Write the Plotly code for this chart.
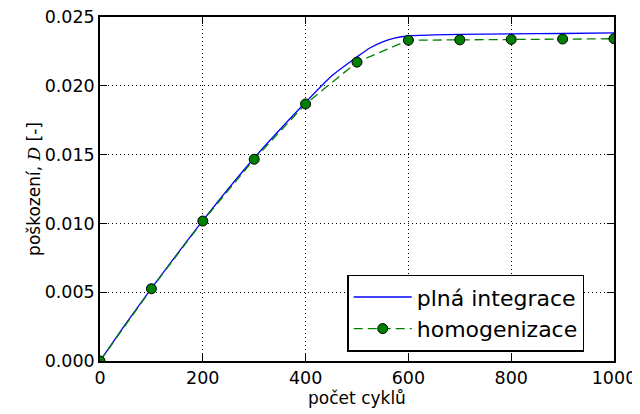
import plotly.graph_objects as go

# plná integrace (fine line)
full_x = [0, 50, 100, 200, 300, 400, 450, 500, 525, 550, 575, 600, 650, 700, 800, 900, 1000]
full_y = [0.0, 0.0027, 0.00527, 0.0102, 0.01475, 0.0188, 0.0207, 0.0221, 0.02275, 0.0232, 0.02348, 0.02362,
          0.0237, 0.02374, 0.02378, 0.0238, 0.02384]

# homogenizace (markers)
hom_x = [0, 100, 200, 300, 400, 500, 600, 700, 800, 900, 1000]
hom_y = [0.0, 0.00525, 0.01017, 0.01466, 0.01868, 0.02172, 0.02331, 0.02334, 0.02337, 0.0234, 0.02342]

x_ticks = [0, 200, 400, 600, 800, 1000]
y_ticks = [0.0, 0.005, 0.010, 0.015, 0.020, 0.025]

fig = go.Figure()
fig.add_trace(go.Scatter(x=full_x, y=full_y, mode="lines", name="plná integrace",
                         line=dict(color="#0000ff", width=1.3, shape="spline", smoothing=0.6)))
fig.add_trace(go.Scatter(x=hom_x, y=hom_y, mode="lines+markers", name="homogenizace",
                         line=dict(color="#008000", width=1.3, dash="9px,5px"),
                         marker=dict(color="#008000", size=10, line=dict(color="black", width=1))))

axis_common = dict(showline=True, linecolor="black", linewidth=1.5, mirror="allticks",
                   ticks="inside", ticklen=7, tickwidth=1, tickcolor="black",
                   showgrid=True, gridcolor="black", gridwidth=1, griddash="1px,3px",
                   zeroline=False, automargin=False, ticklabeloverflow="allow",
                   tickfont=dict(family="DejaVu Sans", size=17.5, color="black"))

fig.update_xaxes(range=[0, 1000], tickvals=x_ticks,
                 title=dict(text="počet cyklů", font=dict(family="DejaVu Sans", size=17, color="black"), standoff=2),
                 **axis_common)
fig.update_yaxes(range=[0, 0.025], tickvals=y_ticks, tickformat=".3f",
                 title=dict(text="poškození, <span style=\"font-family:'DejaVu Serif'\"><i>D</i></span> [-]",
                            font=dict(family="DejaVu Sans", size=17, color="black"), standoff=0),
                 **axis_common)

# page body has an 8px default margin, so the figure is sized and placed to compensate
fig.update_layout(
    width=632, height=406,
    margin=dict(l=92, r=26, t=9, b=53),
    plot_bgcolor="white", paper_bgcolor="white",
    font=dict(family="DejaVu Sans", color="black"),
    legend=dict(x=0.481, y=0.027, xanchor="left", yanchor="bottom",
                bordercolor="black", borderwidth=1.5, bgcolor="white",
                font=dict(family="DejaVu Sans", size=22, color="black"),
                itemwidth=58, tracegroupgap=0),
)

fig.write_html("out.html")
